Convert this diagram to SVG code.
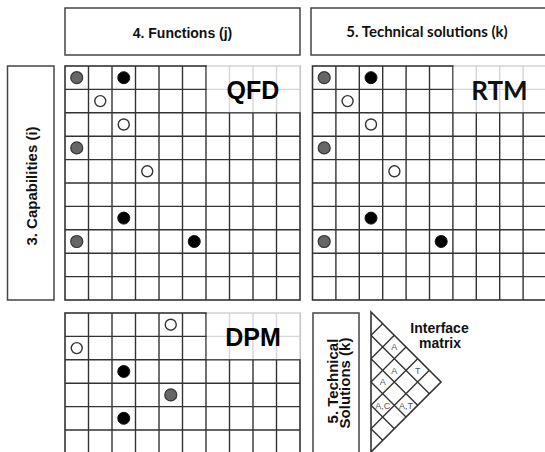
<svg xmlns="http://www.w3.org/2000/svg" width="545" height="452" viewBox="0 0 545 452">
<style>
.box{fill:#fff;stroke:#444;stroke-width:1.5}
.grid{fill:none;stroke:#333;stroke-width:1.4}
.frame{fill:none;stroke:#333;stroke-width:1.6}
.veil{fill:#fff;fill-opacity:0.8}
.lbl{font-family:"Liberation Sans",Arial,sans-serif;font-weight:bold;fill:#111;text-anchor:middle}
.cal{font-family:Lato,"Liberation Sans",sans-serif;font-weight:bold;fill:#111;text-anchor:middle}
.big{font-family:"Liberation Sans",Arial,sans-serif;font-weight:bold;font-size:25px;fill:#000;text-anchor:middle}
.sm{font-family:"Liberation Sans",Arial,sans-serif;font-size:9px;fill:#555;text-anchor:middle}
.blk{fill:#000;stroke:#111;stroke-width:1}
.gry{fill:#666;stroke:#333;stroke-width:1.2}
.opn{fill:#fff;stroke:#333;stroke-width:1.4}
</style>
<rect width="545" height="452" fill="#fff"/>

<g id="functions-header">
<rect class="box" x="65" y="8" width="235" height="47"/>
<text class="lbl" x="182.5" y="37.5" font-size="14">4. Functions (j)</text>
</g>

<g id="solutions-header">
<rect class="box" x="311" y="8" width="240" height="47"/>
<text class="cal" x="427" y="37" font-size="15">5. Technical solutions (k)</text>
</g>

<g id="capabilities-header">
<rect class="box" x="7.5" y="66" width="46.5" height="234"/>
<text class="lbl" font-size="15" transform="translate(37,186) rotate(-90)">3. Capabilities (i)</text>
</g>

<g id="qfd-matrix">
<rect x="65" y="66" width="235" height="234" fill="#fff"/>
<path class="grid" d="M88.5 66V300M112 66V300M135.5 66V300M159 66V300M182.5 66V300M206 66V300M229.5 66V300M253 66V300M276.5 66V300M65 89.4H300M65 112.8H300M65 136.2H300M65 159.6H300M65 183H300M65 206.4H300M65 229.8H300M65 253.2H300M65 276.6H300"/>
<rect class="frame" x="65" y="66" width="235" height="234"/>
<rect class="veil" x="206.8" y="65" width="94" height="47.2"/>
<text class="big" x="253" y="99">QFD</text>
<circle class="gry" cx="76.75" cy="77.7" r="6"/>
<circle class="blk" cx="123.75" cy="77.7" r="6"/>
<circle class="opn" cx="100.25" cy="101.1" r="5.5"/>
<circle class="opn" cx="123.75" cy="124.5" r="5.5"/>
<circle class="gry" cx="76.75" cy="147.9" r="6"/>
<circle class="opn" cx="147.25" cy="171.3" r="5.5"/>
<circle class="blk" cx="123.75" cy="218.1" r="6"/>
<circle class="gry" cx="76.75" cy="241.5" r="6"/>
<circle class="blk" cx="194.25" cy="241.5" r="6"/>
</g>

<g id="rtm-matrix">
<rect x="312.5" y="66" width="234" height="234" fill="#fff"/>
<path class="grid" d="M335.9 66V300M359.3 66V300M382.7 66V300M406.1 66V300M429.5 66V300M452.9 66V300M476.3 66V300M499.7 66V300M523.1 66V300M312.5 89.4H547M312.5 112.8H547M312.5 136.2H547M312.5 159.6H547M312.5 183H547M312.5 206.4H547M312.5 229.8H547M312.5 253.2H547M312.5 276.6H547"/>
<rect class="frame" x="312.5" y="66" width="234" height="234"/>
<rect class="veil" x="453.6" y="65" width="93" height="47.2"/>
<text class="cal" x="499.5" y="100" font-size="26">RTM</text>
<circle class="gry" cx="324.2" cy="77.7" r="6"/>
<circle class="blk" cx="371" cy="77.7" r="6"/>
<circle class="opn" cx="347.6" cy="101.1" r="5.5"/>
<circle class="opn" cx="371" cy="124.5" r="5.5"/>
<circle class="gry" cx="324.2" cy="147.9" r="6"/>
<circle class="opn" cx="394.4" cy="171.3" r="5.5"/>
<circle class="blk" cx="371" cy="218.1" r="6"/>
<circle class="gry" cx="324.2" cy="241.5" r="6"/>
<circle class="blk" cx="441.2" cy="241.5" r="6"/>
</g>

<g id="dpm-matrix">
<rect x="65" y="313" width="235" height="142" fill="#fff"/>
<path class="grid" d="M88.5 313V455M112 313V455M135.5 313V455M159 313V455M182.5 313V455M206 313V455M229.5 313V455M253 313V455M276.5 313V455M65 336.4H300M65 359.8H300M65 383.2H300M65 406.6H300M65 430H300"/>
<rect class="frame" x="65" y="313" width="235" height="142"/>
<rect class="veil" x="206.8" y="312" width="94" height="47.2"/>
<text class="big" x="253" y="346">DPM</text>
<circle class="opn" cx="170.75" cy="324.7" r="5.5"/>
<circle class="opn" cx="76.75" cy="348.1" r="5.5"/>
<circle class="blk" cx="123.75" cy="371.5" r="6"/>
<circle class="gry" cx="170.75" cy="394.9" r="6"/>
<circle class="blk" cx="123.75" cy="418.3" r="6"/>
</g>

<g id="solutions-side-header">
<rect class="box" x="313" y="313" width="46" height="145"/>
<text class="lbl" font-size="15" transform="translate(337.5,381) rotate(-90)">5. Technical</text>
<text class="lbl" font-size="15" transform="translate(350,383) rotate(-90)">Solutions (k)</text>
</g>

<g id="interface-matrix">
<path class="frame" d="M371 312L441 382L371 452Z"/>
<path class="grid" d="M371 335.33L429.33 393.67M371 358.67L417.67 405.33M371 382L406 417M371 405.33L394.33 428.67M371 428.67L382.67 440.33M382.67 323.67L371 335.33M394.33 335.33L371 358.67M406 347L371 382M417.67 358.67L371 405.33M429.33 370.33L371 428.67"/>
<text class="sm" x="394.3" y="350.2">A</text>
<text class="sm" x="394.3" y="373.5">A</text>
<text class="sm" x="417.7" y="373.5">T</text>
<text class="sm" x="382.7" y="385.2">A</text>
<text class="sm" x="382.7" y="408.5">A,C</text>
<text class="sm" x="406" y="408.5">A,T</text>
<text class="lbl" x="439.5" y="333.3" font-size="14">Interface</text>
<text class="lbl" x="440" y="348.3" font-size="14">matrix</text>
</g>

<g id="connectors"/>
</svg>
